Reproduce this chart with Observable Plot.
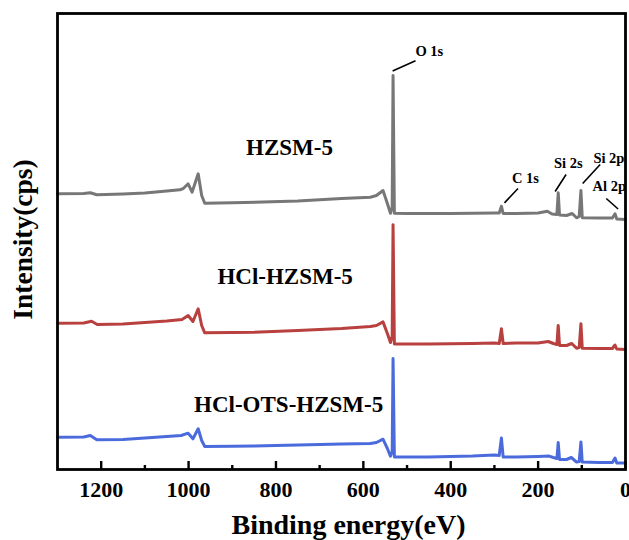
<!DOCTYPE html>
<html>
<head>
<meta charset="utf-8">
<script src="https://cdn.jsdelivr.net/npm/d3@7"></script>
<script src="https://cdn.jsdelivr.net/npm/@observablehq/plot@0.6"></script>
<style>
  html, body { margin: 0; padding: 0; background: #fff; }
  #chart svg { display: block; }
</style>
</head>
<body>
<div id="chart"></div>
<script>
// Binding energy (eV) and intensity (arbitrary cps, stacked) per sample
const energyHZSM = [1300,1240,1225,1210,1150,1100,1050,1020,1012,1001,992,978,970,963,900,750,650,584,570,555,545,538,534,532,529,500,400,300,289,284,280,250,200,179,168,157,154,151,135,122,112,106,102,99,60,30,24,20,0];
const intensityHZSM = [275.7,276,276.7,274.7,275.5,276.5,278.5,279.7,281,285.7,277.3,295.7,274,266.3,266.7,268.5,271,272.3,274,279,266,256.3,262,394,256.3,256,256,256.5,256.5,263.3,256,256,256.5,258.3,255.5,255,276.7,254.5,254,256,251.7,253,279,251.7,251.5,251.5,255.7,250.5,250];

const energyHCl = [1300,1240,1222,1209,1150,1100,1050,1015,1001,990,978,970,963,900,850,750,650,584,570,555,545,538,534,532,529,450,350,300,289,284,280,250,200,177,165,157,154,151,135,123,112,106,102,99,60,30,24,20,0];
const intensityHCl = [146.3,146.5,148.3,145,145.5,147,148.5,150,154,148,160.7,144,136.7,137,137.3,139,141,143,144,147.6,136,127,133,244.8,125.6,125.6,126,126.5,126,140.8,126,126.5,126.5,128,126,125,144.1,124,124,126,121.2,122,145.8,121.2,121,121,124.5,120.5,120];

const energyOTS = [1300,1240,1225,1210,1150,1100,1050,1017,1001,990,978,970,963,900,850,750,650,584,570,555,545,538,534,532,529,450,350,300,289,284,280,250,200,175,165,157,154,151,135,124,112,106,102,99,60,30,24,20,0];
const intensityOTS = [32.3,32.5,34,29.7,30,31.5,33,34,36.3,30.7,40.7,29,23,23.3,23.5,24.5,25.5,26,27,30.3,21,13.4,18,111,12.4,12.5,13.5,14.5,14,31.6,12.4,12.5,13,13.4,12,11,27,10,10,12,7.4,8,27.6,7.4,7,7,11.4,6.5,6.4];

const sampleNames = ["HZSM-5", "HCl-HZSM-5", "HCl-OTS-HZSM-5"];
const sampleColors = ["#777777", "#b8403f", "#4b6bdc"];
const sampleLabelE = [769, 779, 771];
const sampleLabelI = [322, 193, 65];

const peakNames = ["O 1s", "C 1s", "Si 2s", "Si 2p", "Al 2p"];
const peakLabelE = [449, 229, 131, 38, 37];
const peakLabelI = [418, 291.5, 306, 311, 283.4];
const leaderE1 = [533, 277, 161, 98, 44];
const leaderI1 = [398.6, 266.6, 278, 286, 271];
const leaderE2 = [480.6, 246, 136, 58, 17];
const leaderI2 = [408.7, 281, 295, 305, 260.5];

const majorTicks = [1200, 1000, 800, 600, 400, 200, 0];
const minorTicks = [1100, 900, 700, 500, 300, 100];

const xLabel = "Binding energy(eV)";
const yLabel = "Intensity(cps)";

// build tables
const series = [
  {name: sampleNames[0], e: energyHZSM, i: intensityHZSM},
  {name: sampleNames[1], e: energyHCl, i: intensityHCl},
  {name: sampleNames[2], e: energyOTS, i: intensityOTS}
];
const points = series.flatMap(s => s.e.map((e, k) => ({sample: s.name, energy: e, intensity: s.i[k]})));
const sampleLabels = sampleNames.map((n, k) => ({name: n, energy: sampleLabelE[k], intensity: sampleLabelI[k]}));
const peakLabels = peakNames.map((n, k) => ({name: n, energy: peakLabelE[k], intensity: peakLabelI[k]}));
const leaders = peakNames.map((n, k) => ({x1: leaderE1[k], y1: leaderI1[k], x2: leaderE2[k], y2: leaderI2[k]}));

const font = "'Liberation Serif', 'Times New Roman', serif";
const W = 629, H = 540, mT = 13, mB = 71;
const frameH = H - mT - mB;

const chart = Plot.plot({
  width: W,
  height: H,
  marginLeft: 57,
  marginRight: 4,
  marginTop: mT,
  marginBottom: mB,
  style: {fontFamily: font, background: "#fff", overflow: "visible"},
  x: {domain: [1300, 0], axis: null},
  y: {domain: [0, 456], axis: null},
  color: {domain: sampleNames, range: sampleColors},
  marks: [
    Plot.line(points, {x: "energy", y: "intensity", z: "sample", stroke: "sample", strokeWidth: 3, strokeLinejoin: "round"}),
    Plot.link(leaders, {x1: "x1", y1: "y1", x2: "x2", y2: "y2", stroke: "black", strokeWidth: 1.6}),
    Plot.text(peakLabels, {x: "energy", y: "intensity", text: "name", fontSize: 14.5, fontWeight: "bold", fill: "black"}),
    Plot.text(sampleLabels, {x: "energy", y: "intensity", text: "name", fontSize: 23, fontWeight: "bold", fill: "black"}),
    Plot.ruleX(majorTicks, {x: d => d, insetTop: frameH - 8, stroke: "black", strokeWidth: 2.4}),
    Plot.ruleX(minorTicks, {x: d => d, insetTop: frameH - 4, stroke: "black", strokeWidth: 2.4}),
    Plot.axisX(majorTicks, {tickSize: 0, tickPadding: 12, fontSize: 22, fontWeight: "bold", fill: "black", label: null, tickFormat: d => String(d)}),
    Plot.frame({stroke: "black", strokeWidth: 2.8}),
    Plot.text([xLabel], {frameAnchor: "bottom", textAnchor: "middle", dx: 7, dy: 64, fontSize: 28, fontWeight: "bold", fill: "black"}),
    Plot.text([yLabel], {frameAnchor: "left", textAnchor: "middle", lineAnchor: "middle", rotate: -90, dx: -34, dy: -2, fontSize: 27.5, fontWeight: "bold", fill: "black"})
  ]
});
document.getElementById("chart").appendChild(chart);
</script>
</body>
</html>
